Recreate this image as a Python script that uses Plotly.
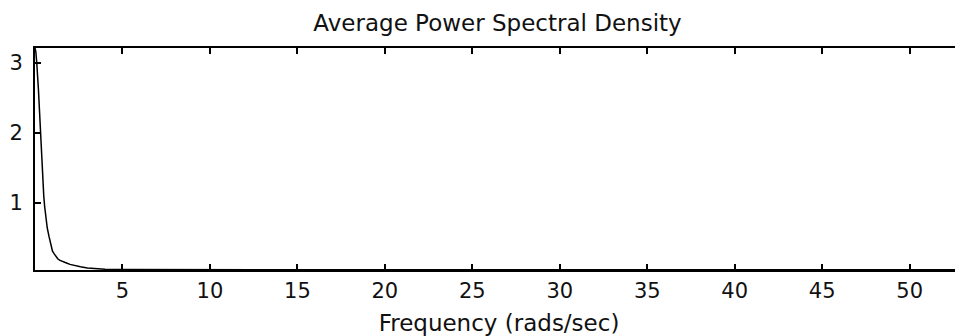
import plotly.graph_objects as go

# Frequency (rad/s) and average PSD values
freq = [0.0, 0.05, 0.1, 0.15, 0.2, 0.25, 0.3, 0.35, 0.4, 0.45, 0.5, 0.55, 0.6,
        0.7, 0.8, 0.9, 1.0, 1.1, 1.2, 1.3, 1.4, 1.6, 1.8, 2.0, 2.3, 2.6,
        3.0, 3.5, 4.0, 5.0, 7.0, 10.0, 15.0, 20.0, 30.0, 40.0, 50.0, 53.1]
psd = [3.21, 3.15, 3.0, 2.85, 2.6, 2.35, 2.05, 1.75, 1.5, 1.28, 1.1, 0.95, 0.82,
       0.64, 0.52, 0.41, 0.31, 0.27, 0.23, 0.20, 0.18, 0.155, 0.14, 0.12, 0.10, 0.085,
       0.07, 0.06, 0.052, 0.047, 0.045, 0.044, 0.043, 0.043, 0.043, 0.043, 0.043, 0.043]

x_ticks = [5, 10, 15, 20, 25, 30, 35, 40, 45, 50]
y_ticks = [1, 2, 3]

title_text = "Average Power Spectral Density"
x_label = "Frequency (rads/sec)"

FONT = "DejaVu Sans"
TXT = "#111"

fig = go.Figure()
fig.add_trace(go.Scatter(x=freq, y=psd, mode="lines",
                         line=dict(color="black", width=1.5),
                         showlegend=False, hoverinfo="skip"))

fig.update_layout(
    width=955, height=328,
    margin=dict(l=27, r=0, t=40, b=66, autoexpand=False),
    paper_bgcolor="white", plot_bgcolor="white",
    title=dict(text=title_text, x=0.5126, xanchor="center", y=0.954, yanchor="middle",
               font=dict(family=FONT, size=23, color=TXT)),
    font=dict(family=FONT, size=21, color=TXT),
    xaxis=dict(range=[0, 53.05], tickvals=x_ticks, ticktext=[str(t) for t in x_ticks],
               ticks="inside", ticklen=6, tickwidth=1.5, tickcolor="black",
               showline=True, linecolor="black", linewidth=2, mirror="ticks",
               showgrid=False, zeroline=False, automargin=False,
               ticklabelstandoff=1,
               tickfont=dict(family=FONT, size=21, color=TXT),
               title=dict(text=x_label, standoff=15,
                          font=dict(family=FONT, size=23, color=TXT))),
    yaxis=dict(range=[0.04, 3.21], tickvals=y_ticks, ticktext=[str(t) for t in y_ticks],
               ticks="inside", ticklen=6, tickwidth=1.5, tickcolor="black",
               showline=True, linecolor="black", linewidth=2, mirror=False,
               showgrid=False, zeroline=False, automargin=False,
               ticklabelstandoff=6,
               tickfont=dict(family=FONT, size=21, color=TXT)),
)

fig.write_html("out.html")
